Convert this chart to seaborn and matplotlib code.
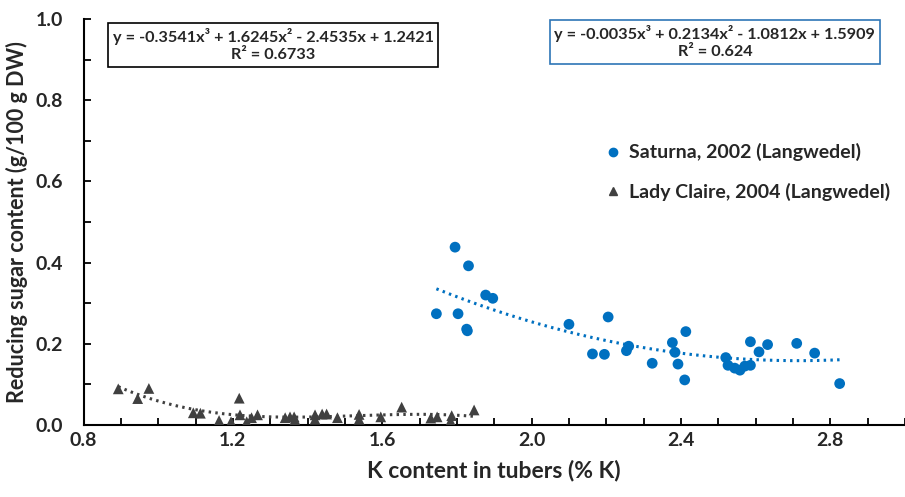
import numpy as np
import pandas as pd
import matplotlib
matplotlib.use("Agg")
import matplotlib.pyplot as plt
from matplotlib.lines import Line2D
from matplotlib.ticker import MultipleLocator
import seaborn as sns

# ---- data ----
saturna_k = [1.745, 1.795, 1.803, 1.826, 1.828, 1.831, 1.877, 1.896, 2.100, 2.163,
             2.195, 2.205, 2.254, 2.260, 2.323, 2.377, 2.384, 2.392, 2.410, 2.413,
             2.520, 2.526, 2.544, 2.558, 2.571, 2.586, 2.586, 2.609, 2.632, 2.710,
             2.758, 2.825]
saturna_sugar = [0.274, 0.438, 0.274, 0.236, 0.232, 0.392, 0.320, 0.312, 0.248, 0.175,
                 0.174, 0.266, 0.183, 0.194, 0.152, 0.203, 0.179, 0.150, 0.111, 0.230,
                 0.166, 0.147, 0.140, 0.135, 0.145, 0.147, 0.205, 0.180, 0.198, 0.201,
                 0.177, 0.102]

claire_k = [0.893, 0.945, 0.975, 1.094, 1.113, 1.163, 1.195, 1.217, 1.219, 1.237,
            1.250, 1.266, 1.340, 1.353, 1.364, 1.366, 1.420, 1.420, 1.439, 1.451,
            1.480, 1.538, 1.538, 1.596, 1.652, 1.730, 1.747, 1.786, 1.783, 1.846]
claire_sugar = [0.089, 0.065, 0.090, 0.030, 0.029, 0.011, 0.008, 0.066, 0.025, 0.008,
                0.018, 0.025, 0.018, 0.020, 0.020, 0.013, 0.025, 0.014, 0.027, 0.027,
                0.018, 0.026, 0.014, 0.020, 0.044, 0.017, 0.020, 0.023, 0.010, 0.037]

# trendline coefficients as printed on the chart (highest power first)
saturna_coef = [-0.0035, 0.2134, -1.0812, 1.5909]
claire_coef = [-0.3541, 1.6245, -2.4535, 1.2421]
saturna_eq = "y = -0.0035x³ + 0.2134x² - 1.0812x + 1.5909\nR² = 0.624"
claire_eq = "y = -0.3541x³ + 1.6245x² - 2.4535x + 1.2421\nR² = 0.6733"

series_labels = ["Saturna, 2002 (Langwedel)", "Lady Claire, 2004 (Langwedel)"]
x_ticks = [0.8, 1.2, 1.6, 2.0, 2.4, 2.8]
y_ticks = [0.0, 0.2, 0.4, 0.6, 0.8, 1.0]
x_label = "K content in tubers (% K)"
y_label = "Reducing sugar content (g/100 g DW)"

BLUE = "#0070C0"
GREY = "#404040"

sns.set_theme(style="white")
plt.rcParams["font.family"] = ["Lato", "DejaVu Sans"]
plt.rcParams["font.weight"] = "bold"

df = pd.DataFrame({
    "k": saturna_k + claire_k,
    "sugar": saturna_sugar + claire_sugar,
    "series": [series_labels[0]] * len(saturna_k) + [series_labels[1]] * len(claire_k),
})

fig = plt.figure(figsize=(9.05, 4.97), dpi=100)
ax = fig.add_axes([0.0923, 0.1449, 0.9077, 0.8169])

sns.scatterplot(data=df, x="k", y="sugar", hue="series", style="series",
                palette={series_labels[0]: BLUE, series_labels[1]: GREY},
                markers={series_labels[0]: "o", series_labels[1]: "^"},
                s=60, linewidth=0, ax=ax, legend=False, zorder=3)

# trendlines
for xs, coef, col in [(saturna_k, saturna_coef, BLUE), (claire_k, claire_coef, GREY)]:
    xx = np.linspace(min(xs), max(xs), 200)
    yy = np.polyval(coef, xx)
    sns.lineplot(x=xx, y=yy, ax=ax, color=col, lw=2.2, linestyle=(0, (0.8, 1.4)),
                 zorder=2)

ax.set_xlim(0.8, 3.0)
ax.set_ylim(0.0, 1.0)
ax.set_xticks(x_ticks)
ax.set_yticks(y_ticks)
ax.set_xticklabels([f"{v:.1f}" for v in x_ticks])
ax.set_yticklabels([f"{v:.1f}" for v in y_ticks])
ax.xaxis.set_minor_locator(MultipleLocator(0.1))
ax.yaxis.set_minor_locator(MultipleLocator(0.1))
ax.tick_params(axis="both", which="both", direction="in", length=5, width=1.3,
               color="black", bottom=True, left=True)
ax.tick_params(axis="x", which="major", labelsize=14, pad=5)
ax.tick_params(axis="y", which="major", labelsize=14, pad=15)
for lab in ax.get_xticklabels() + ax.get_yticklabels():
    lab.set_fontweight("bold")

for side in ["top", "right"]:
    ax.spines[side].set_visible(False)
for side in ["left", "bottom"]:
    ax.spines[side].set_color("black")
    ax.spines[side].set_linewidth(1.5)

ax.set_xlabel(x_label, fontsize=16.5, fontweight="bold", labelpad=8)
ax.set_ylabel(y_label, fontsize=15.5, fontweight="bold", labelpad=5)

# equation boxes
ax.text(0.2307, 0.936, claire_eq, transform=ax.transAxes, ha="center", va="center",
        fontsize=11.7, fontweight="bold", multialignment="center", linespacing=1.25,
        bbox=dict(boxstyle="square,pad=0.3", fc="white", ec="black", lw=1.2))
ax.text(0.7686, 0.943, saturna_eq, transform=ax.transAxes, ha="center", va="center",
        fontsize=11.7, fontweight="bold", multialignment="center", linespacing=1.25,
        bbox=dict(boxstyle="square,pad=0.3", fc="white", ec="#2E75B6", lw=1.2))

# legend
handles = [Line2D([0], [0], marker="o", ls="", color=BLUE, markersize=6),
           Line2D([0], [0], marker="^", ls="", color=GREY, markersize=6)]
ax.legend(handles, series_labels, loc="upper left", bbox_to_anchor=(0.612, 0.737),
          frameon=False, prop={"size": 14, "weight": "bold"},
          handletextpad=0.3, labelspacing=1.1, handlelength=1.0)

fig.savefig("out.png", dpi=100)
